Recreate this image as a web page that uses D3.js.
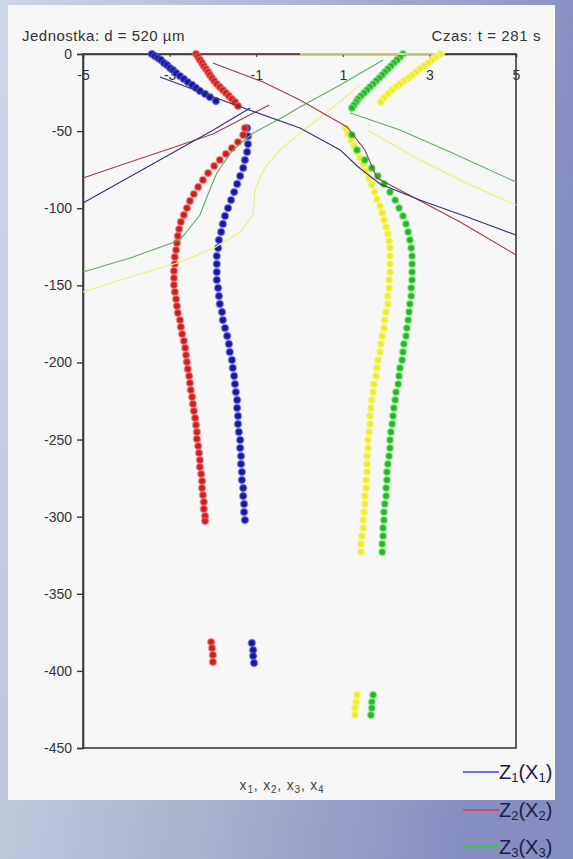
<!DOCTYPE html>
<html>
<head>
<meta charset="utf-8">
<script src="https://cdn.jsdelivr.net/npm/d3@7"></script>
<style>
  html, body { margin: 0; padding: 0; overflow: hidden; }
  svg { display: block; font-family: "Liberation Sans", Arial, sans-serif; }
</style>
</head>
<body>
<svg id="chart" width="573" height="859"></svg>
<script>
// ---- axis ticks ----
const xTicks = [-5, -3, -1, 1, 3, 5];
const zTicks = [0, -50, -100, -150, -200, -250, -300, -350, -400, -450];

// ---- header texts ----
const unitText = "Jednostka: d = 520 µm";
const timeText = "Czas: t = 281 s";

// ---- measured points [x, z] ----
const x1Points = [
  [-3.41,0],[-3.34,-1.3],[-3.27,-2.6],[-3.20,-3.9],[-3.13,-5.8],[-3.06,-7.1],[-2.99,-9.1],[-2.92,-10.4],
  [-2.85,-12.3],[-2.76,-14.3],[-2.67,-16.2],[-2.58,-18.2],[-2.48,-20.1],[-2.39,-22.0],[-2.30,-24.0],
  [-2.18,-25.9],[-2.07,-27.9],[-1.93,-30.5],
  [-1.21,-48.0],[-1.19,-53.2],[-1.19,-58.4],[-1.21,-63.5],[-1.26,-68.7],[-1.30,-73.9],[-1.37,-79.1],
  [-1.44,-84.3],[-1.51,-89.5],[-1.58,-94.7],[-1.65,-99.9],[-1.72,-105.0],[-1.77,-110.2],[-1.81,-115.4],
  [-1.86,-120.6],[-1.88,-125.8],[-1.91,-131.0],[-1.91,-136.2],[-1.91,-141.4],[-1.91,-146.5],[-1.88,-151.7],
  [-1.86,-156.9],[-1.84,-162.1],[-1.79,-167.3],[-1.77,-172.5],[-1.72,-177.7],[-1.67,-182.8],[-1.63,-188.0],
  [-1.61,-193.2],[-1.56,-198.4],[-1.54,-203.6],[-1.51,-208.8],[-1.49,-214.0],[-1.47,-219.2],[-1.44,-224.3],
  [-1.44,-229.5],[-1.42,-234.7],[-1.42,-239.9],[-1.40,-245.1],[-1.37,-250.3],[-1.37,-255.5],[-1.35,-260.7],
  [-1.35,-265.8],[-1.33,-271.0],[-1.33,-276.2],[-1.30,-281.4],[-1.30,-286.6],[-1.28,-291.8],[-1.28,-297.0],
  [-1.26,-302.2],
  [-1.10,-381.9],[-1.07,-386.5],[-1.07,-390.4],[-1.05,-394.9]
];
const x2Points = [
  [-2.39,0],[-2.34,-1.9],[-2.30,-3.9],[-2.25,-5.8],[-2.21,-7.8],[-2.16,-9.7],[-2.11,-11.7],[-2.07,-13.6],
  [-2.02,-15.6],[-1.97,-17.5],[-1.91,-19.5],[-1.84,-21.4],[-1.77,-23.3],[-1.70,-25.3],[-1.63,-27.2],
  [-1.56,-29.2],[-1.49,-31.1],[-1.42,-33.7],
  [-1.26,-48.0],[-1.30,-52.5],[-1.42,-57.1],[-1.56,-61.0],[-1.70,-64.8],[-1.84,-68.7],[-1.97,-72.6],
  [-2.11,-77.2],[-2.23,-81.7],[-2.34,-86.2],[-2.44,-90.8],[-2.53,-95.3],[-2.60,-99.9],[-2.67,-104.4],
  [-2.74,-108.9],[-2.78,-113.5],[-2.81,-118.0],[-2.83,-122.5],[-2.85,-127.1],[-2.88,-131.6],[-2.88,-136.2],
  [-2.90,-140.7],[-2.90,-145.2],[-2.90,-149.8],[-2.88,-154.3],[-2.85,-158.9],[-2.83,-163.4],[-2.81,-167.9],
  [-2.76,-172.5],[-2.74,-177.0],[-2.71,-181.6],[-2.67,-186.1],[-2.64,-190.6],[-2.62,-195.2],[-2.60,-199.7],
  [-2.58,-204.2],[-2.55,-208.8],[-2.53,-213.3],[-2.51,-217.9],[-2.48,-222.4],[-2.46,-226.9],[-2.44,-231.5],
  [-2.41,-236.0],[-2.39,-240.6],[-2.37,-245.1],[-2.37,-249.6],[-2.34,-254.2],[-2.32,-258.7],[-2.30,-263.3],
  [-2.30,-267.8],[-2.27,-272.3],[-2.25,-276.9],[-2.25,-281.4],[-2.23,-285.9],[-2.21,-290.5],[-2.21,-295.0],
  [-2.18,-299.6],[-2.18,-302.8],
  [-2.04,-381.3],[-2.02,-385.2],[-2.00,-389.7],[-2.00,-394.2]
];
const x3Points = [
  [2.39,0],[2.32,-1.9],[2.25,-3.9],[2.18,-5.8],[2.11,-7.8],[2.04,-9.7],[1.97,-11.7],[1.91,-13.6],
  [1.84,-15.6],[1.77,-17.5],[1.70,-19.5],[1.63,-21.4],[1.56,-23.3],[1.49,-25.3],[1.42,-27.2],[1.35,-29.2],
  [1.31,-31.1],[1.26,-33.1],[1.21,-35.0],
  [1.21,-52.5],[1.33,-62.2],[1.51,-68.7],[1.67,-73.9],[1.81,-79.1],[1.95,-84.3],[2.09,-89.5],[2.21,-94.7],
  [2.30,-99.9],[2.39,-105.0],[2.46,-110.2],[2.51,-115.4],[2.55,-120.6],[2.58,-125.8],[2.60,-131.0],
  [2.60,-136.2],[2.60,-141.4],[2.60,-146.5],[2.58,-151.7],[2.58,-156.9],[2.55,-162.1],[2.53,-167.3],
  [2.51,-172.5],[2.48,-177.7],[2.46,-182.8],[2.41,-188.0],[2.39,-193.2],[2.37,-198.4],[2.32,-203.6],
  [2.30,-208.8],[2.28,-214.0],[2.23,-219.2],[2.21,-224.3],[2.18,-229.5],[2.16,-234.7],[2.14,-239.9],
  [2.11,-245.1],[2.09,-250.3],[2.09,-255.5],[2.07,-260.7],[2.04,-265.8],[2.02,-271.0],[2.02,-276.2],
  [2.00,-281.4],[2.00,-286.6],[1.97,-291.8],[1.95,-297.0],[1.95,-302.2],[1.93,-307.3],[1.93,-312.5],
  [1.91,-317.7],[1.91,-322.9],
  [1.70,-415.6],[1.67,-420.2],[1.67,-424.1],[1.65,-428.6]
];
const x4Points = [
  [3.25,0],[3.15,-1.9],[3.06,-3.9],[2.97,-5.8],[2.88,-7.8],[2.78,-9.7],[2.69,-11.7],[2.60,-13.6],
  [2.51,-15.6],[2.41,-17.5],[2.32,-19.5],[2.23,-21.4],[2.14,-23.3],[2.04,-25.9],[1.95,-28.5],[1.88,-31.1],
  [1.07,-48.0],[1.12,-51.9],[1.19,-55.8],[1.26,-59.7],[1.33,-63.5],[1.40,-67.4],[1.47,-71.3],[1.54,-75.9],
  [1.61,-80.4],[1.67,-84.9],[1.74,-89.5],[1.79,-94.0],[1.86,-98.6],[1.91,-103.1],[1.95,-107.6],[2.00,-112.2],
  [2.04,-116.7],[2.07,-121.3],[2.09,-125.8],[2.09,-131.0],[2.09,-136.2],[2.09,-141.4],[2.07,-146.5],
  [2.07,-151.7],[2.04,-156.9],[2.04,-162.1],[2.00,-167.3],[1.97,-172.5],[1.95,-177.7],[1.91,-182.8],
  [1.88,-188.0],[1.86,-193.2],[1.81,-198.4],[1.79,-203.6],[1.77,-208.8],[1.72,-214.0],[1.70,-219.2],
  [1.67,-224.3],[1.65,-229.5],[1.63,-234.7],[1.63,-239.9],[1.61,-245.1],[1.58,-250.3],[1.58,-255.5],
  [1.56,-260.7],[1.56,-265.8],[1.56,-271.0],[1.54,-276.2],[1.54,-281.4],[1.51,-286.6],[1.51,-291.8],
  [1.49,-297.0],[1.47,-302.2],[1.47,-307.3],[1.44,-312.5],[1.42,-317.7],[1.42,-322.9],
  [1.33,-415.6],[1.31,-420.2],[1.28,-424.1],[1.28,-428.6]
];

// ---- profile lines z_i(x_i); null splits a line into separate pieces ----
const z1Line = [
  [-5,-96.6],[-4.0,-80.9],[-3.0,-65.1],[-2.0,-49.4],[-1.14,-35.0], null,
  [-3.22,-14.9],[-1.61,-31.8],[0.01,-48.0],[0.94,-62.2],[1.33,-72.6],[1.86,-84.3],[2.78,-94.7],[3.94,-106.3],[5,-117.4]
];
const z2Line = [
  [-5,-80.4],[-4.0,-70.9],[-3.0,-61.4],[-2.0,-51.9],[-0.70,-33.0], null,
  [-2.0,-5.8],[-0.84,-18.2],[0.01,-29.8],[1.10,-47.3],[1.51,-62.2],[1.79,-80.4],[2.62,-92.7],[3.71,-108.9],[5,-130.3], null,
  [-2.39,0],[0.01,0]
];
const z3Line = [
  [-5,-141.4],[-3.91,-132.3],[-2.76,-120.6],[-2.30,-104.4],[-2.14,-92.7],[-1.91,-77.2],[-1.54,-62.2],
  [-1.07,-51.2],[-0.38,-40.9],[0.01,-34.4],[0.94,-20.1],[1.93,-3.9], null,
  [1.17,-38.3],[2.32,-49.3],[3.48,-63.5],[5,-83.0]
];
const z4Line = [
  [-5,-154.3],[-3.91,-144.6],[-2.76,-134.9],[-1.97,-125.8],[-1.37,-115.4],[-1.07,-104.4],[-1.03,-88.2],
  [-0.80,-73.9],[-0.45,-62.2],[0.01,-51.2],[0.70,-36.3],[1.40,-20.1], null,
  [1.56,-49.3],[2.78,-68.7],[3.94,-84.9],[5,-97.9], null,
  [0.01,0],[3.36,0]
];

const legendLabels = ["1", "2", "3"];

// ---- layout ----
const W = 573, H = 859;
const plot = { left: 83, right: 516, top: 54, bottom: 748 };
const FONT = "'Liberation Sans', Arial, sans-serif";

const svg = d3.select("#chart");
const defs = svg.append("defs");
const grad = defs.append("linearGradient").attr("id", "bgGrad")
  .attr("x1", "0").attr("y1", "0").attr("x2", "1").attr("y2", "0.25");
grad.append("stop").attr("offset", "0").attr("stop-color", "#ced6e6");
grad.append("stop").attr("offset", "0.55").attr("stop-color", "#aab2cf");
grad.append("stop").attr("offset", "1").attr("stop-color", "#868dc0");

svg.append("rect").attr("width", W).attr("height", H).attr("fill", "url(#bgGrad)");
svg.append("rect").attr("x", 8).attr("y", 5).attr("width", 547).attr("height", 795).attr("fill", "#f7f7f8");

const x = d3.scaleLinear().domain([-5, 5]).range([plot.left, plot.right]);
const y = d3.scaleLinear().domain([0, -450]).range([plot.top, plot.bottom]);
const fmt = d => String(d);

// frame
svg.append("rect")
  .attr("x", plot.left).attr("y", plot.top)
  .attr("width", plot.right - plot.left).attr("height", plot.bottom - plot.top)
  .attr("fill", "none").attr("stroke", "#3a3a3a").attr("stroke-width", 1.6);

// vertical axis
const gy = svg.append("g").attr("transform", `translate(${plot.left},0)`)
  .call(d3.axisLeft(y).tickValues(zTicks).tickSize(6).tickPadding(5).tickFormat(fmt));
gy.select(".domain").attr("stroke", "#3a3a3a").attr("stroke-width", 1.6);
gy.selectAll(".tick line").attr("stroke", "#3a3a3a").attr("stroke-width", 1.4);
gy.selectAll(".tick text").attr("font-size", 14).attr("fill", "#333").attr("font-family", FONT);

// horizontal axis along the top edge, labels inside the frame
const gx = svg.append("g").attr("transform", `translate(0,${plot.top})`)
  .call(d3.axisBottom(x).tickValues(xTicks).tickSize(3).tickPadding(13).tickFormat(fmt));
gx.select(".domain").attr("stroke", "#3a3a3a").attr("stroke-width", 1.6);
gx.selectAll(".tick line").attr("stroke", "#3a3a3a");
gx.selectAll(".tick text").attr("font-size", 14).attr("fill", "#333").attr("font-family", FONT);

// header
svg.append("text").attr("x", 22).attr("y", 41).attr("font-size", 15).attr("fill", "#333")
  .attr("letter-spacing", 0.5).text(unitText);
svg.append("text").attr("x", 541).attr("y", 41).attr("font-size", 15).attr("fill", "#333")
  .attr("text-anchor", "end").attr("letter-spacing", 0.6).text(timeText);

// axis title x1, x2, x3, x4
const xt = svg.append("text").attr("x", 282).attr("y", 790).attr("text-anchor", "middle")
  .attr("font-size", 14).attr("fill", "#444").attr("letter-spacing", 0.8);
["1", "2", "3", "4"].forEach((s, i) => {
  xt.append("tspan").attr("dy", i === 0 ? 0 : -3).text((i === 0 ? "" : ", ") + "x");
  xt.append("tspan").attr("font-size", 10).attr("dy", 3).text(s);
});

// dots
const dotSets = [
  { pts: x1Points, fill: "#1616a0", halo: "#5a5ad8" },
  { pts: x2Points, fill: "#cc1e1e", halo: "#f07070" },
  { pts: x4Points, fill: "#eeee26", halo: "#f6f690" },
  { pts: x3Points, fill: "#1fb81f", halo: "#8ee88e" }
];
dotSets.forEach(s => {
  svg.append("g").selectAll("circle").data(s.pts).join("circle")
    .attr("cx", d => x(d[0])).attr("cy", d => y(d[1])).attr("r", 3.4)
    .attr("fill", s.fill).attr("stroke", s.halo).attr("stroke-opacity", 0.55).attr("stroke-width", 1.8);
});

// profile lines
const line = d3.line().defined(d => d !== null).x(d => x(d[0])).y(d => y(d[1]));
const lineSets = [
  { pts: z4Line, color: "#f0ee8a", w: 1.3 },
  { pts: z3Line, color: "#5fae5f", w: 1.1 },
  { pts: z2Line, color: "#9a4050", w: 1.1 },
  { pts: z1Line, color: "#33336e", w: 1.1 }
];
lineSets.forEach(s => {
  svg.append("path").datum(s.pts).attr("d", line)
    .attr("fill", "none").attr("stroke", s.color).attr("stroke-width", s.w);
});

// legend
const legendColors = ["#7070dc", "#d04a72", "#3ec63e"];
const legendY = [772, 810, 847];
legendLabels.forEach((s, i) => {
  svg.append("line").attr("x1", 463).attr("x2", 499).attr("y1", legendY[i]).attr("y2", legendY[i])
    .attr("stroke", legendColors[i]).attr("stroke-width", 2);
  const t = svg.append("text").attr("x", 499).attr("y", legendY[i] + 7)
    .attr("font-size", 20).attr("fill", "#1e1e44");
  t.append("tspan").text("Z");
  t.append("tspan").attr("font-size", 13).attr("dy", 3).text(s);
  t.append("tspan").attr("dy", -3).text("(X");
  t.append("tspan").attr("font-size", 13).attr("dy", 3).text(s);
  t.append("tspan").attr("dy", -3).text(")");
});
</script>
</body>
</html>
